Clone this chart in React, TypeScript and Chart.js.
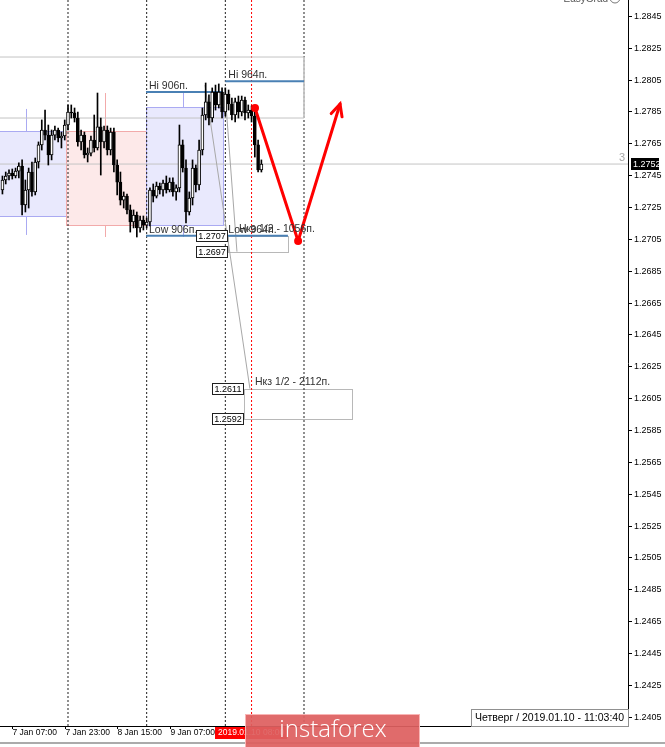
import { useEffect, useRef } from 'react';
import { Chart, registerables } from 'chart.js';

Chart.register(...registerables);

const FONT = '"Liberation Sans", Arial, sans-serif';

// Hourly bars, hours counted from 7 Jan 2019 00:00
const candleHours = [
  4, 5, 6, 7, 8, 9, 10, 11, 12, 13, 14, 15, 16, 17, 18, 19, 20, 21, 22, 23,
  24, 25, 26, 27, 28, 29, 30, 31, 32, 33, 34, 35, 36, 37, 38, 39, 40, 41, 42, 43,
  44, 45, 46, 47, 48, 49, 50, 51, 52, 53, 54, 55, 56, 57, 58, 59, 60, 61, 62, 63,
  64, 65, 66, 67, 68, 69, 70, 71, 72, 73, 74, 75, 76, 77, 78, 79, 80, 81, 82, 83,
];
const opens = [
  1.27357, 1.2742, 1.27445, 1.27464, 1.27445, 1.27476, 1.27508, 1.27263, 1.27357, 1.2747,
  1.27345, 1.27533, 1.2764, 1.27734, 1.27702, 1.27577, 1.27702, 1.27734, 1.27684, 1.27696,
  1.27765, 1.27847, 1.27841, 1.27809, 1.27659, 1.27702, 1.27577, 1.27589, 1.27671, 1.27621,
  1.27753, 1.27659, 1.27734, 1.27608, 1.27721, 1.27514, 1.27407, 1.27294, 1.27319, 1.27232,
  1.27156, 1.272, 1.27119, 1.27169, 1.27137, 1.27156, 1.27357, 1.27319, 1.27382, 1.27357,
  1.27401, 1.27357, 1.27407, 1.27345, 1.2737, 1.2764, 1.27495, 1.27219, 1.27307, 1.27495,
  1.27389, 1.27608, 1.27828, 1.2791, 1.27809, 1.27972, 1.27891, 1.27972, 1.27847, 1.2796,
  1.27897, 1.27828, 1.2791, 1.27847, 1.27922, 1.27841, 1.27859, 1.27822, 1.2764, 1.27483,
];
const highs = [
  1.27445, 1.2747, 1.27483, 1.27489, 1.27495, 1.27527, 1.27546, 1.2742, 1.27495, 1.27533,
  1.27558, 1.27659, 1.27797, 1.27859, 1.27765, 1.27734, 1.27759, 1.27746, 1.27721, 1.27797,
  1.27891, 1.27891, 1.27872, 1.27847, 1.27734, 1.27721, 1.27621, 1.27696, 1.27828, 1.27966,
  1.27809, 1.27759, 1.27759, 1.27746, 1.27746, 1.27546, 1.2747, 1.27345, 1.27332, 1.27263,
  1.27232, 1.27219, 1.27194, 1.27194, 1.27181, 1.2737, 1.27395, 1.27407, 1.27401, 1.2742,
  1.27445, 1.27433, 1.27433, 1.27389, 1.27765, 1.27671, 1.27546, 1.27345, 1.27546, 1.27514,
  1.27671, 1.27872, 1.28029, 1.27954, 1.27998, 1.28016, 1.28023, 1.27998, 1.27998, 1.27985,
  1.27935, 1.27935, 1.27947, 1.27947, 1.27941, 1.27891, 1.27885, 1.27885, 1.27671, 1.27546,
];
const lows = [
  1.27332, 1.27395, 1.2742, 1.27426, 1.27433, 1.27433, 1.272, 1.27219, 1.27244, 1.27319,
  1.27326, 1.27495, 1.27608, 1.27671, 1.27514, 1.27546, 1.27671, 1.27659, 1.27621, 1.27671,
  1.27734, 1.27809, 1.27784, 1.27633, 1.27608, 1.27558, 1.27533, 1.27571, 1.27596, 1.27608,
  1.27451, 1.27621, 1.27577, 1.27577, 1.2747, 1.27326, 1.27263, 1.27244, 1.27207, 1.27093,
  1.27119, 1.27062, 1.27093, 1.27106, 1.27119, 1.27131, 1.27282, 1.27307, 1.27332, 1.27319,
  1.27338, 1.27345, 1.27319, 1.27294, 1.27345, 1.2747, 1.2715, 1.272, 1.27263, 1.27345,
  1.27357, 1.27577, 1.27797, 1.27765, 1.27784, 1.27859, 1.27872, 1.27809, 1.27822, 1.27859,
  1.27797, 1.27784, 1.27809, 1.27822, 1.27797, 1.27809, 1.27784, 1.27564, 1.2747, 1.2747,
];
const closes = [
  1.2742, 1.27445, 1.27464, 1.27445, 1.27476, 1.27508, 1.27263, 1.27357, 1.2747, 1.27345,
  1.27533, 1.2764, 1.27734, 1.27702, 1.27577, 1.27702, 1.27734, 1.27684, 1.27696, 1.27765,
  1.27847, 1.27841, 1.27809, 1.27659, 1.27702, 1.27577, 1.27589, 1.27671, 1.27621, 1.27753,
  1.27659, 1.27734, 1.27608, 1.27721, 1.27514, 1.27407, 1.27294, 1.27319, 1.27232, 1.27156,
  1.272, 1.27119, 1.27169, 1.27137, 1.27156, 1.27357, 1.27319, 1.27382, 1.27357, 1.27401,
  1.27357, 1.27407, 1.27345, 1.2737, 1.2764, 1.27495, 1.27219, 1.27307, 1.27495, 1.27389,
  1.27608, 1.27828, 1.2791, 1.27809, 1.27972, 1.27891, 1.27972, 1.27847, 1.2796, 1.27897,
  1.27828, 1.2791, 1.27847, 1.27922, 1.27841, 1.27859, 1.27822, 1.2764, 1.27483, 1.2752,
];

// Axes
const priceTicks = [
  1.2405, 1.2425, 1.2445, 1.2465, 1.2485, 1.2505, 1.2525, 1.2545, 1.2565, 1.2585, 1.2605, 1.2625,
  1.2645, 1.2665, 1.2685, 1.2705, 1.2725, 1.2745, 1.2765, 1.2785, 1.2805, 1.2825, 1.2845,
];
const timeTickHours = [7, 23, 39, 55];
const timeTickLabels = ['7 Jan 07:00', '7 Jan 23:00', '8 Jan 15:00', '9 Jan 07:00'];
const daySeparatorHours = [24, 48, 72, 96];
const cursorHour = 80;
const cursorLabel = '2019.01.10 08:00';
const lastPrice = 1.2752;
const serverTime = 'Четверг / 2019.01.10 - 11:03:40';
const X_MIN = 3.255;
const X_MAX = 194.85;
const Y_MIN = 1.23992;
const Y_MAX = 1.2855;

// Daily session boxes
const boxStart = [-1, 23.4, 47.8];
const boxEnd = [23.4, 47.8, 71.3];
const boxTop = [1.27728, 1.27728, 1.27878];
const boxBottom = [1.27194, 1.27137, 1.27137];
const boxMidHour = [11.2, 35.3, 59.1];
const dayHigh = [1.27866, 1.27966, 1.27972];
const dayLow = [1.27075, 1.27062, 1.27062];
const boxKind = ['up', 'down', 'up'];

// Range levels
const levelNames = ['Hi 906п.', 'Low 906п.', 'Hi 964п.', 'Low 964п.'];
const levelPrices = [1.27972, 1.2707, 1.2804, 1.2707];
const levelFrom = [47.8, 47.8, 72, 72];
const levelTo = [71.3, 72, 96, 91.1];

// Target zones
const zoneNames = ['Нкз 1/2 - 1056п.', 'Нкз 1/2 - 2112п.'];
const zoneUpper = [1.2707, 1.2611];
const zoneLower = [1.2697, 1.2592];
const zoneFrom = [72.8, 77.7];
const zoneTo = [91.1, 110.6];

// Guide lines from the highs to the zones
const guideAHours = [65.8, 79.5];
const guideAPrices = [1.28016, 1.2611];
const guideBHours = [72.2, 75.55];
const guideBPrices = [1.27891, 1.2697];

// Range frame
const frameTop = 1.28192;
const frameBottom = 1.27809;
const frameEnd = 96;

// Forecast path
const pathHours = [81.05, 94.2, 107];
const pathPrices = [1.27872, 1.27037, 1.27897];

const pts = (xs: number[], ys: number[]) => xs.map((x, i) => ({ x, y: ys[i] }));

const lineDs = (data: any[], color: string, width: number, order: number, dash: number[] = []) => ({
  type: 'line',
  data,
  borderColor: color,
  borderWidth: width,
  borderDash: dash,
  pointRadius: 0,
  fill: false,
  tension: 0,
  order,
});

const decor = {
  id: 'decor',
  beforeDraw(chart: any) {
    const { ctx, width, height } = chart;
    ctx.save();
    ctx.fillStyle = '#ffffff';
    ctx.fillRect(0, 0, width, height);
    ctx.restore();
  },
  beforeDatasetsDraw(chart: any) {
    const { ctx, chartArea, scales } = chart;
    const x = scales.x;
    const y = scales.y;
    ctx.save();
    ctx.beginPath();
    ctx.rect(chartArea.left, chartArea.top, chartArea.right - chartArea.left, chartArea.bottom - chartArea.top);
    ctx.clip();
    boxStart.forEach((s, i) => {
      const up = boxKind[i] === 'up';
      const stroke = up ? '#AAAAF2' : '#F2AAAA';
      const fill = up ? '#E9E9FD' : '#FDE9E9';
      ctx.lineWidth = 1;
      ctx.strokeStyle = stroke;
      const mx = Math.round(x.getPixelForValue(boxMidHour[i])) + 0.5;
      ctx.beginPath();
      ctx.moveTo(mx, y.getPixelForValue(dayHigh[i]));
      ctx.lineTo(mx, y.getPixelForValue(dayLow[i]));
      ctx.stroke();
      const x0 = Math.round(x.getPixelForValue(s)) + 0.5;
      const x1 = Math.round(x.getPixelForValue(boxEnd[i])) + 0.5;
      const y0 = Math.round(y.getPixelForValue(boxTop[i])) + 0.5;
      const y1 = Math.round(y.getPixelForValue(boxBottom[i])) + 0.5;
      ctx.fillStyle = fill;
      ctx.fillRect(x0, y0, x1 - x0, y1 - y0);
      ctx.strokeRect(x0, y0, x1 - x0, y1 - y0);
    });
    ctx.strokeStyle = '#B8B8B8';
    zoneFrom.forEach((f, i) => {
      const x0 = Math.round(x.getPixelForValue(f)) + 0.5;
      const x1 = Math.round(x.getPixelForValue(zoneTo[i])) + 0.5;
      const y0 = Math.round(y.getPixelForValue(zoneUpper[i])) + 0.5;
      const y1 = Math.round(y.getPixelForValue(zoneLower[i])) + 0.5;
      ctx.strokeRect(x0, y0, x1 - x0, y1 - y0);
    });
    ctx.restore();
  },
  afterDatasetsDraw(chart: any) {
    const { ctx, scales } = chart;
    const x = scales.x;
    const y = scales.y;
    ctx.save();

    // arrowhead at the end of the forecast path
    const n = pathHours.length;
    const tx = x.getPixelForValue(pathHours[n - 1]);
    const ty = y.getPixelForValue(pathPrices[n - 1]);
    const fx = x.getPixelForValue(pathHours[n - 2]);
    const fy = y.getPixelForValue(pathPrices[n - 2]);
    const ang = Math.atan2(ty - fy, tx - fx);
    ctx.strokeStyle = '#ff0000';
    ctx.lineWidth = 3;
    ctx.lineCap = 'round';
    ctx.beginPath();
    ctx.moveTo(tx - 13 * Math.cos(ang - 0.45), ty - 13 * Math.sin(ang - 0.45));
    ctx.lineTo(tx, ty);
    ctx.lineTo(tx - 13 * Math.cos(ang + 0.45), ty - 13 * Math.sin(ang + 0.45));
    ctx.stroke();

    // level captions
    ctx.font = `10.5px ${FONT}`;
    ctx.fillStyle = '#303030';
    ctx.textAlign = 'left';
    ctx.textBaseline = 'alphabetic';
    levelNames.forEach((name, i) => {
      ctx.fillText(name, x.getPixelForValue(levelFrom[i]) + 3, y.getPixelForValue(levelPrices[i]) - 3);
    });
    zoneNames.forEach((name, i) => {
      ctx.fillText(name, x.getPixelForValue(zoneFrom[i]) + 11, y.getPixelForValue(zoneUpper[i]) - 4);
    });

    // zone price tags
    ctx.font = `9px ${FONT}`;
    ctx.textAlign = 'center';
    ctx.textBaseline = 'middle';
    zoneFrom.forEach((f, i) => {
      const right = Math.round(x.getPixelForValue(f));
      [zoneUpper[i], zoneLower[i]].forEach((p) => {
        const py = Math.round(y.getPixelForValue(p));
        ctx.fillStyle = '#ffffff';
        ctx.fillRect(right - 32, py - 6, 32, 12);
        ctx.lineWidth = 1;
        ctx.strokeStyle = '#202020';
        ctx.strokeRect(right - 31.5, py - 5.5, 31, 11);
        ctx.fillStyle = '#000000';
        ctx.fillText(p.toFixed(4), right - 16, py + 0.5);
      });
    });

    // bid line marker
    ctx.font = `11px ${FONT}`;
    ctx.fillStyle = '#A8A8A8';
    ctx.textAlign = 'right';
    ctx.textBaseline = 'alphabetic';
    ctx.fillText('3', chart.chartArea.right - 3, y.getPixelForValue(lastPrice) - 3);
    ctx.restore();
  },
  afterDraw(chart: any) {
    const { ctx, chartArea, scales, width, height } = chart;
    const x = scales.x;
    const y = scales.y;
    const right = chartArea.right;
    const bottom = chartArea.bottom;
    ctx.save();

    // price axis
    ctx.strokeStyle = '#000000';
    ctx.lineWidth = 1;
    ctx.beginPath();
    ctx.moveTo(right + 0.5, 0);
    ctx.lineTo(right + 0.5, bottom + 1);
    ctx.moveTo(0, bottom + 0.5);
    ctx.lineTo(right + 1, bottom + 0.5);
    ctx.stroke();
    ctx.font = `9px ${FONT}`;
    ctx.fillStyle = '#000000';
    ctx.textAlign = 'left';
    ctx.textBaseline = 'middle';
    priceTicks.forEach((v) => {
      const py = Math.round(y.getPixelForValue(v)) + 0.5;
      ctx.beginPath();
      ctx.moveTo(right, py);
      ctx.lineTo(right + 4, py);
      ctx.stroke();
      ctx.fillText(v.toFixed(4), right + 6, py);
    });

    // last price tag
    const ly = Math.round(y.getPixelForValue(lastPrice));
    ctx.fillStyle = '#000000';
    ctx.fillRect(right + 3, ly - 6, 28, 12);
    ctx.fillStyle = '#ffffff';
    ctx.fillText(lastPrice.toFixed(4), right + 5, ly + 0.5);

    // time axis
    ctx.fillStyle = '#000000';
    ctx.font = `8.5px ${FONT}`;
    timeTickHours.forEach((h, i) => {
      const px = Math.round(x.getPixelForValue(h)) + 0.5;
      ctx.beginPath();
      ctx.moveTo(px, bottom);
      ctx.lineTo(px, bottom + 3);
      ctx.stroke();
      ctx.fillText(timeTickLabels[i], px, bottom + 7);
    });
    const cx = x.getPixelForValue(cursorHour);
    const cw = ctx.measureText(cursorLabel).width + 6;
    ctx.fillStyle = '#ff0000';
    ctx.fillRect(Math.round(cx - cw / 2), bottom + 1, Math.round(cw), 12);
    ctx.fillStyle = '#ffffff';
    ctx.fillText(cursorLabel, Math.round(cx - cw / 2) + 3, bottom + 7);

    // server time box
    ctx.font = `10.5px ${FONT}`;
    const tw = ctx.measureText(serverTime).width + 8;
    ctx.fillStyle = '#ffffff';
    ctx.fillRect(right - tw, bottom - 17, tw, 17);
    ctx.strokeStyle = '#909090';
    ctx.strokeRect(right - tw + 0.5, bottom - 16.5, tw, 17);
    ctx.fillStyle = '#000000';
    ctx.textAlign = 'right';
    ctx.fillText(serverTime, right - 4, bottom - 8);

    // indicator name
    ctx.font = `10px ${FONT}`;
    ctx.fillStyle = '#555555';
    ctx.textBaseline = 'alphabetic';
    ctx.fillText('EasyGrad', 608, 2);
    ctx.strokeStyle = '#777777';
    ctx.beginPath();
    ctx.arc(615, -2, 5, 0, Math.PI * 2);
    ctx.stroke();

    // window border
    ctx.fillStyle = '#ABABAB';
    ctx.fillRect(0, height - 5, width, 2);

    // watermark
    ctx.fillStyle = 'rgba(222, 96, 96, 0.93)';
    ctx.fillRect(245, height - 33, 175, 33);
    ctx.strokeStyle = 'rgba(255, 200, 200, 0.8)';
    ctx.strokeRect(245.5, height - 32.5, 174, 33);
    ctx.fillStyle = '#ffffff';
    ctx.font = `300 24px "Open Sans", ${FONT}`;
    ctx.textAlign = 'center';
    ctx.textBaseline = 'middle';
    ctx.fillText('instaforex', 333, height - 17);
    ctx.restore();
  },
};

export default function App() {
  const canvasRef = useRef<HTMLCanvasElement | null>(null);

  useEffect(() => {
    document.body.style.margin = '0';
    const canvas = canvasRef.current;
    if (!canvas) return;

    const bodies = candleHours.map((h, i) => ({
      x: h,
      y: [Math.min(opens[i], closes[i]), Math.max(opens[i], closes[i])],
    }));
    const wicks = candleHours.map((h, i) => ({ x: h, y: [lows[i], highs[i]] }));
    const bodyColors = candleHours.map((_, i) => (closes[i] > opens[i] ? '#ffffff' : '#000000'));

    const datasets: any[] = [
      {
        type: 'line',
        data: pts(pathHours, pathPrices),
        borderColor: '#ff0000',
        borderWidth: 3,
        borderCapStyle: 'round',
        borderJoinStyle: 'round',
        pointRadius: [4, 4, 0],
        pointBackgroundColor: '#ff0000',
        pointBorderWidth: 0,
        fill: false,
        tension: 0,
        order: 0,
      },
      {
        type: 'bar',
        data: bodies,
        backgroundColor: bodyColors,
        borderColor: '#000000',
        borderWidth: 1,
        borderSkipped: false,
        barThickness: 3,
        grouped: false,
        order: 1,
      },
      {
        type: 'bar',
        data: wicks,
        backgroundColor: '#000000',
        borderWidth: 0,
        barThickness: 1,
        grouped: false,
        order: 2,
      },
    ];
    levelNames.forEach((_, i) => {
      datasets.push(lineDs(pts([levelFrom[i], levelTo[i]], [levelPrices[i], levelPrices[i]]), '#4A80B4', 2, 3));
    });
    datasets.push(lineDs(pts(guideAHours, guideAPrices), '#A8A8A8', 1, 4));
    datasets.push(lineDs(pts(guideBHours, guideBPrices), '#A8A8A8', 1, 4));
    datasets.push(
      lineDs(
        pts([X_MIN - 2, frameEnd, frameEnd, X_MIN - 2], [frameTop, frameTop, frameBottom, frameBottom]),
        '#C4C4C4',
        1,
        5,
      ),
    );
    datasets.push(lineDs(pts([X_MIN - 2, X_MAX + 2], [lastPrice, lastPrice]), '#C4C4C4', 1, 5));
    daySeparatorHours.forEach((h) => {
      datasets.push(lineDs(pts([h, h], [Y_MIN, Y_MAX]), '#202020', 1, 6, [2, 2]));
    });
    datasets.push(lineDs(pts([cursorHour, cursorHour], [Y_MIN, Y_MAX]), '#ff0000', 1, 6, [2, 2]));

    const chart = new Chart(canvas, {
      type: 'bar',
      data: { datasets },
      options: {
        animation: false,
        responsive: false,
        maintainAspectRatio: false,
        events: [],
        layout: { autoPadding: false, padding: { left: 0, top: 0, right: 37, bottom: 21 } },
        plugins: { legend: { display: false }, tooltip: { enabled: false } },
        scales: {
          x: { type: 'linear', min: X_MIN, max: X_MAX, offset: false, display: false },
          y: { type: 'linear', min: Y_MIN, max: Y_MAX, display: false },
        },
      } as any,
      plugins: [decor],
    } as any);

    return () => chart.destroy();
  }, []);

  return (
    <canvas
      ref={canvasRef}
      width={665}
      height={747}
      style={{ display: 'block', width: 665, height: 747 }}
    />
  );
}
